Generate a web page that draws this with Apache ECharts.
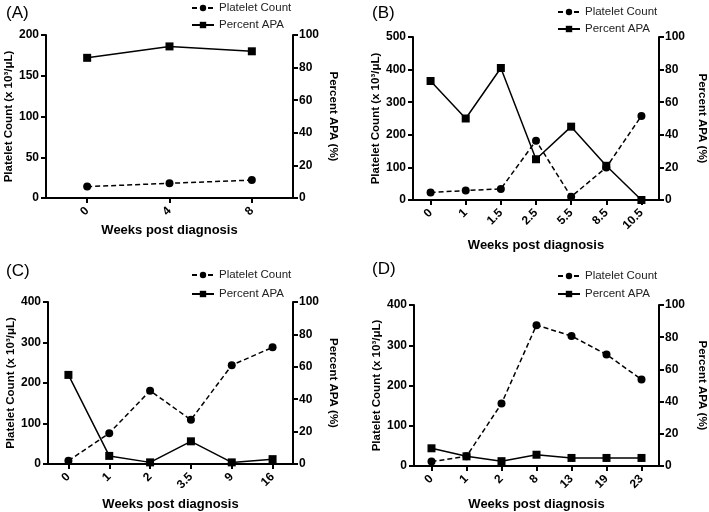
<!DOCTYPE html>
<html>
<head>
<meta charset="utf-8">
<script src="https://cdn.jsdelivr.net/npm/echarts@6/dist/echarts.min.js"></script>
<style>html,body{margin:0;padding:0;background:#fff;}#c{width:709px;height:512px;}</style>
</head>
<body>
<div id="c"></div>
<script>
// Data
const catsA = ['0', '4', '8'];
const plateletA = [14, 18, 22];
const apaA = [86, 93, 90];

const catsB = ['0', '1', '1.5', '2.5', '5.5', '8.5', '10.5'];
const plateletB = [23, 29, 34, 182, 10, 100, 258];
const apaB = [73, 50, 81, 25, 45, 21, 0];

const catsC = ['0', '1', '2', '3.5', '9', '16'];
const plateletC = [8, 76, 181, 109, 244, 288];
const apaC = [55, 5, 1, 14, 1, 3];

const catsD = ['0', '1', '2', '8', '13', '19', '23'];
const plateletD = [11, 24, 155, 350, 323, 277, 215];
const apaD = [11, 6, 3, 7, 5, 5, 5];

const leftMax = [200, 500, 400, 400];
const leftInterval = [50, 100, 100, 100];
const panelLabels = ['(A)', '(B)', '(C)', '(D)'];

const FONT = 'Liberation Sans, Arial, sans-serif';
const panels = [
  {cats: catsA, plt: plateletA, apa: apaA, grid: {left: 46, top: 35, width: 247, height: 163}, legend: {left: 191, top: 2, gap: 5}, title: {left: 1, top: 0}, xGap: 26, lGap: 29, rGap: 34},
  {cats: catsB, plt: plateletB, apa: apaB, grid: {left: 413, top: 37, width: 246, height: 163}, legend: {left: 557, top: 6, gap: 5}, title: {left: 367, top: 0}, xGap: 39, lGap: 25, rGap: 37},
  {cats: catsC, plt: plateletC, apa: apaC, grid: {left: 48, top: 302, width: 245, height: 163}, legend: {left: 191, top: 269, gap: 7}, title: {left: 1, top: 258}, xGap: 34, lGap: 31, rGap: 34},
  {cats: catsD, plt: plateletD, apa: apaD, grid: {left: 414, top: 305, width: 245, height: 162}, legend: {left: 557, top: 270, gap: 6}, title: {left: 367, top: 256}, xGap: 32, lGap: 28, rGap: 37}
];

const axisLine = {show: true, lineStyle: {color: '#000', width: 2}};
const axisTick = {show: true, inside: false, length: 5, lineStyle: {color: '#000', width: 2}};
const tickLabel = {color: '#000', fontWeight: 'bold', fontSize: 12, fontFamily: FONT};
const nameStyle = {color: '#000', fontWeight: 'bold', fontSize: 11.5, fontFamily: FONT};

const option = {
  backgroundColor: '#fff',
  animation: false,
  title: [], legend: [], grid: [], xAxis: [], yAxis: [], series: []
};

panels.forEach((p, i) => {
  option.title.push({text: panelLabels[i], left: p.title.left, top: p.title.top,
    textStyle: {fontSize: 17, fontWeight: 'normal', color: '#000', fontFamily: FONT}});
  option.grid.push(Object.assign({containLabel: false}, p.grid));
  option.legend.push({
    left: p.legend.left, top: p.legend.top, orient: 'vertical', itemWidth: 22, itemHeight: 8, itemGap: p.legend.gap,
    padding: 0,
    data: ['Platelet Count', 'Percent APA'],
    textStyle: {fontSize: 11.5, color: '#222', fontFamily: FONT},
    selectedMode: false
  });
  option.xAxis.push({
    type: 'category', gridIndex: i, data: p.cats, boundaryGap: true,
    axisLine: axisLine, axisTick: Object.assign({alignWithLabel: true}, axisTick),
    axisLabel: Object.assign({rotate: 45, margin: 11, interval: 0}, tickLabel),
    name: 'Weeks post diagnosis', nameLocation: 'middle', nameGap: p.xGap,
    nameTextStyle: Object.assign({}, nameStyle, {fontSize: 13}),
    splitLine: {show: false}
  });
  option.yAxis.push({
    type: 'value', gridIndex: i, position: 'left', min: 0, max: leftMax[i], interval: leftInterval[i],
    axisLine: axisLine, axisTick: axisTick, axisLabel: Object.assign({margin: 7}, tickLabel),
    name: 'Platelet Count (x 10\u00B3/\u03BCL)', nameLocation: 'middle', nameGap: p.lGap, nameTextStyle: nameStyle,
    splitLine: {show: false}
  });
  option.yAxis.push({
    type: 'value', gridIndex: i, position: 'right', min: 0, max: 100, interval: 20,
    axisLine: axisLine, axisTick: axisTick, axisLabel: Object.assign({margin: 6}, tickLabel),
    name: 'Percent APA (%)', nameLocation: 'middle', nameGap: p.rGap, nameRotate: -90, nameTextStyle: nameStyle,
    splitLine: {show: false}
  });
  option.series.push({
    name: 'Platelet Count', type: 'line', xAxisIndex: i, yAxisIndex: 2 * i, data: p.plt,
    symbol: 'circle', symbolSize: 8, itemStyle: {color: '#000'},
    lineStyle: {color: '#000', width: 1.5, type: [5, 3]}
  });
  option.series.push({
    name: 'Percent APA', type: 'line', xAxisIndex: i, yAxisIndex: 2 * i + 1, data: p.apa,
    symbol: 'rect', symbolSize: 8, itemStyle: {color: '#000'},
    lineStyle: {color: '#000', width: 1.5, type: 'solid'}
  });
});

const chart = echarts.init(document.getElementById('c'), null, {renderer: 'canvas'});
chart.setOption(option);
</script>
</body>
</html>
